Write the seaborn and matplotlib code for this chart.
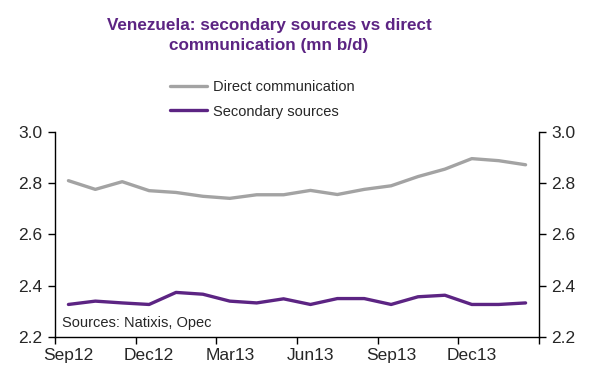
import pandas as pd
import seaborn as sns
from matplotlib import pyplot as plt

# Data, monthly Sep12 - Feb14
months = ['Sep12', 'Oct12', 'Nov12', 'Dec12', 'Jan13', 'Feb13', 'Mar13', 'Apr13', 'May13',
          'Jun13', 'Jul13', 'Aug13', 'Sep13', 'Oct13', 'Nov13', 'Dec13', 'Jan14', 'Feb14']
direct = [2.810, 2.776, 2.806, 2.771, 2.764, 2.749, 2.741, 2.755, 2.755,
          2.772, 2.756, 2.776, 2.790, 2.826, 2.855, 2.896, 2.888, 2.872]
secondary = [2.327, 2.340, 2.333, 2.327, 2.374, 2.367, 2.340, 2.333, 2.349,
             2.327, 2.350, 2.350, 2.327, 2.357, 2.363, 2.327, 2.327, 2.333]
label_months = ['Sep12', 'Dec12', 'Mar13', 'Jun13', 'Sep13', 'Dec13']
yticks = [2.2, 2.4, 2.6, 2.8, 3.0]

purple = '#5C2483'
grey = '#A3A3A3'

sns.set_style('white')
plt.rcParams['font.family'] = ['Liberation Sans', 'DejaVu Sans']

df = pd.DataFrame({'month': months, 'Direct communication': direct, 'Secondary sources': secondary})
df['pos'] = range(len(df))
long_df = df.melt(id_vars=['month', 'pos'], var_name='series', value_name='mbd')

fig = plt.figure(figsize=(5.9, 3.71), dpi=100)
ax = fig.add_axes([0.0932, 0.0916, 0.8204, 0.5527])

sns.lineplot(long_df, x='pos', y='mbd', hue='series', palette=[grey, purple],
             linewidth=2.4, ax=ax, legend=False)

ax.set_xlim(-0.5, len(months) - 0.5)
ax.set_ylim(2.2, 3.0)
ax.set_xlabel('')
ax.set_ylabel('')

# category style axis: boundary ticks every 3 months, labels on the month
ax.set_xticks([i - 0.5 for i in range(0, len(months) + 1, 3)])
ax.set_xticklabels([])
ax.set_xticks([months.index(m) for m in label_months], minor=True)
ax.set_xticklabels(label_months, minor=True, fontsize=12.5)
ax.tick_params(axis='x', which='major', direction='out', length=5, width=1, bottom=True, color='black')
ax.tick_params(axis='x', which='minor', length=0, pad=8)

ax.set_yticks(yticks)
ax.set_yticklabels([f'{v:.1f}' for v in yticks], fontsize=12.5)
ax.tick_params(axis='y', which='major', direction='out', length=5, width=1, left=True,
               right=True, labelleft=True, labelright=True, color='black', pad=4)

for side in ['left', 'right', 'bottom']:
    ax.spines[side].set_visible(True)
    ax.spines[side].set_color('black')
    ax.spines[side].set_linewidth(1)
ax.spines['top'].set_visible(False)

ax.text(0.015, 0.035, 'Sources: Natixis, Opec', transform=ax.transAxes, fontsize=10.5,
        ha='left', va='bottom')

# legend
handles = [plt.Line2D([], [], color=grey, linewidth=2.4),
           plt.Line2D([], [], color=purple, linewidth=2.4)]
fig.legend(handles, ['Direct communication', 'Secondary sources'], loc='upper left',
           bbox_to_anchor=(0.275, 0.805), frameon=False, fontsize=10.5, handlelength=2.6,
           handletextpad=0.4, labelspacing=0.75, borderpad=0)

fig.text(0.456, 0.952, 'Venezuela: secondary sources vs direct\ncommunication (mn b/d)',
         ha='center', va='top', fontsize=12.3, fontweight='bold', color=purple, linespacing=1.4)

fig.savefig('out.png', dpi=100)
